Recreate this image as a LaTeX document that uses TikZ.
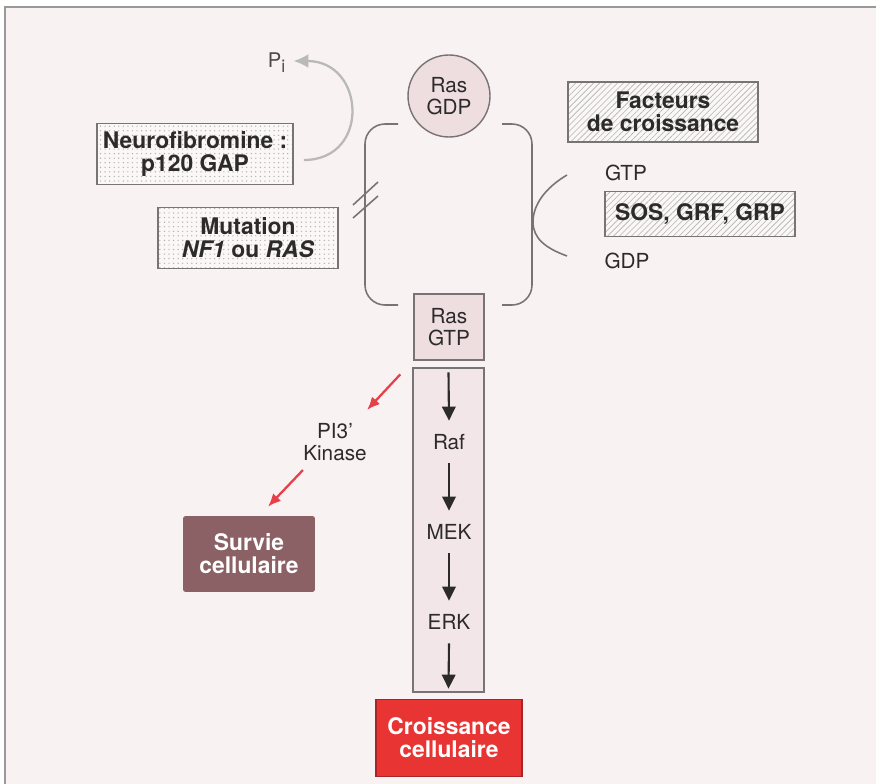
\documentclass[tikz,border=0pt]{standalone}
\usepackage{fontspec}
\setmainfont{TeX Gyre Heros}
\usetikzlibrary{arrows.meta,patterns.meta}
\definecolor{fond}{RGB}{249,242,243}
\definecolor{bord}{RGB}{120,116,118}
\definecolor{texte}{RGB}{45,42,44}
\definecolor{rasrose}{RGB}{238,222,224}
\definecolor{cascrose}{RGB}{242,230,232}
\definecolor{boitefond}{RGB}{251,247,247}
\definecolor{survie}{RGB}{140,97,101}
\definecolor{croiss}{RGB}{233,52,52}
\definecolor{croissbord}{RGB}{170,35,38}
\definecolor{flrouge}{RGB}{232,64,74}
\begin{document}
\begin{tikzpicture}[x=0.02cm,y=-0.02cm,
  reg/.style={font=\fontsize{11.8}{12.5}\selectfont,text=texte,align=center},
  bld/.style={font=\bfseries\fontsize{13}{13}\selectfont,text=texte,align=center},
  pointille/.style={draw=bord,line width=0.8pt,bld,preaction={fill=boitefond},
    pattern={Dots[distance=2.6pt,radius=0.4pt]},pattern color=gray!65},
  hachure/.style={draw=bord,line width=0.8pt,bld,preaction={fill=boitefond},
    pattern={Lines[angle=45,distance=2.4pt,line width=0.35pt]},pattern color=gray!60},
  etape/.style={reg,inner sep=0pt,minimum height=0.84cm},
  crochet/.style={draw=bord,line width=0.9pt},
  noir/.style={draw=texte,line width=1.2pt,-{Triangle[length=0.28cm,width=0.27cm]}},
  rouge/.style={draw=flrouge,line width=1.3pt,-{Latex[length=0.26cm,width=0.22cm]}},
  gris/.style={draw=gray!55,line width=1.3pt,-{Latex[length=0.3cm,width=0.28cm]}}]
\clip (0,0) rectangle (876,784);
\draw[draw=gray!80,line width=0.9pt,fill=fond] (5,7) rectangle (900,800);

% cycle Ras
\node[circle,draw=bord,line width=0.8pt,fill=rasrose,minimum size=1.64cm,inner sep=0pt,reg] (rasgdp) at (449,96) {Ras\\GDP};
\node[draw=bord,line width=0.8pt,fill=rasrose,minimum width=1.4cm,minimum height=1.32cm,inner sep=0pt,reg] (rasgtp) at (449,327) {Ras\\GTP};
\draw[crochet,rounded corners=0.4cm] (398,124) -| (365,305) -- (398,305);
\draw[crochet,rounded corners=0.4cm] (502,124) -| (532,305) -- (502,305);
\draw[crochet] (567,175) .. controls (545,188) and (533,205) .. (533,222) .. controls (533,238) and (545,248) .. (567,256);
\draw[crochet] (353,205) -- (378,182) (353,218) -- (378,196);

% regulateurs
\node[pointille,minimum width=3.8cm,minimum height=1.22cm] (neuro) at (195,154) {Neurofibromine :\\p120 GAP};
\node[pointille,minimum width=3.6cm,minimum height=1.22cm] (mutation) at (248,238) {Mutation\\\textit{NF1} ou \textit{RAS}};
\node[hachure,minimum width=3.8cm,minimum height=1.2cm] (facteurs) at (663,112) {Facteurs\\de croissance};
\node[hachure,minimum width=3.8cm,minimum height=0.9cm] (sos) at (700,214) {SOS, GRF, GRP};
\node[reg] (gtp) at (626,173) {GTP};
\node[reg] (gdp) at (627,261) {GDP};
\node[font=\fontsize{11.5}{12}\selectfont,text=texte!85,inner sep=0pt] (pi) at (277,63) {P\textsubscript{\fontsize{10}{10}\selectfont i}};
\draw[gris] ([shift={(10,6)}]neuro.east) .. controls +(67,0) and +(72,0) .. ([shift={(7,-2)}]pi.east);

% cascade
\node[draw=bord,line width=0.8pt,fill=cascrose,minimum width=1.42cm,minimum height=6.48cm,inner sep=0pt] (casc) at (448.5,530) {};
\node[etape] (raf) at (449,442) {Raf};
\node[etape] (mek) at (449,532) {MEK};
\node[etape] (erk) at (449,622) {ERK};
\draw[noir] ([shift={(0,5)}]casc.north) -- (raf.north);
\draw[noir] (raf.south) -- (mek.north);
\draw[noir] (mek.south) -- (erk.north);
\draw[noir] (erk.south) -- ([shift={(0,-4)}]casc.south);
\node[draw=croissbord,line width=0.9pt,fill=croiss,minimum width=2.92cm,minimum height=1.54cm,bld,text=white] (croissance) at (449,738) {Croissance\\cellulaire};

% voie PI3'K
\node[reg,inner sep=0pt] (pi3) at (335,442) {PI3'\\Kinase};
\node[fill=survie,rounded corners=1.5pt,minimum width=2.64cm,minimum height=1.52cm,bld,text=white] (survie) at (249,554) {Survie\\cellulaire};
\draw[rouge] ([shift={(-12,7)}]casc.north west) -- ([shift={(0,-13)}]pi3.north east);
\draw[rouge] ([shift={(0,9)}]pi3.south west) -- ([shift={(19,-9)}]survie.north);
\end{tikzpicture}
\end{document}
